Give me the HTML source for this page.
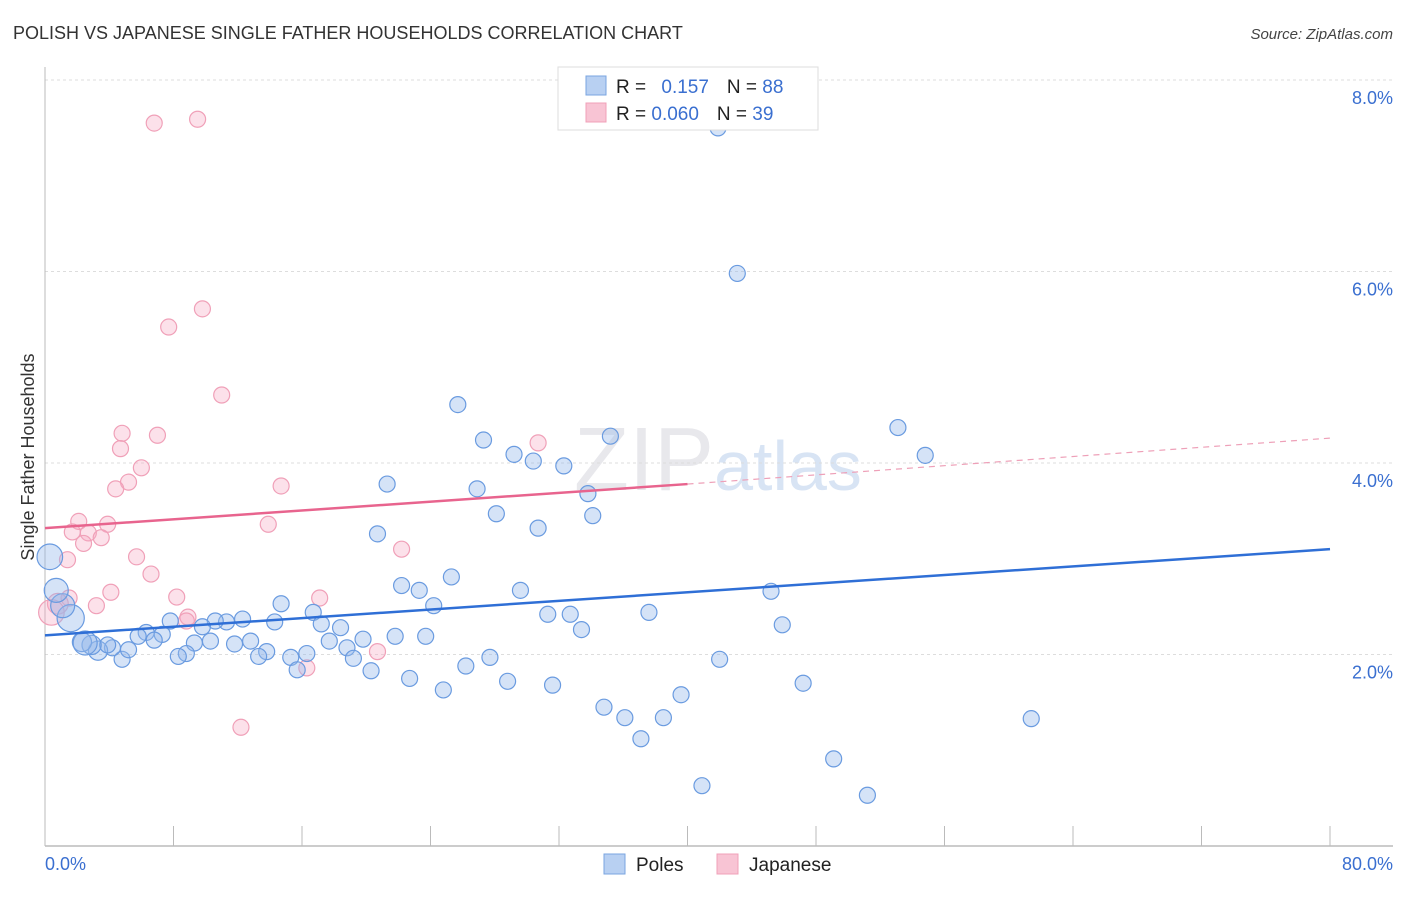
<!DOCTYPE html>
<html><head><meta charset="utf-8"><style>
body{margin:0;background:#fff;font-family:"Liberation Sans",sans-serif;}
svg text{font-family:"Liberation Sans",sans-serif;}
</style></head><body>
<svg id="chart" width="1406" height="892" viewBox="0 0 1406 892" xmlns="http://www.w3.org/2000/svg">
<text x="13" y="39" font-size="18" fill="#333">POLISH VS JAPANESE SINGLE FATHER HOUSEHOLDS CORRELATION CHART</text>
<text x="1393" y="39" font-size="15" fill="#444" font-style="italic" text-anchor="end">Source: ZipAtlas.com</text>
<text x="718" y="490" font-size="90" fill="#e8e8ec" text-anchor="middle" font-family="Liberation Serif">ZIP<tspan fill="#d8e4f4" font-family="Liberation Sans" font-size="70">atlas</tspan></text>
<g id="grid"></g>
<g id="axes"></g>
<g id="pts"></g>
<g id="trends"></g>
<text transform="translate(34,457) rotate(-90)" font-size="18" fill="#333" text-anchor="middle">Single Father Households</text>
<g>
<rect x="558" y="67" width="260" height="63" fill="#fff" stroke="#ddd"/>
<rect x="586" y="76" width="20" height="19" fill="#b8d0f2" stroke="#7aa5e0"/>
<rect x="586" y="103" width="20" height="19" fill="#f8c4d4" stroke="#f0a0b8"/>
<text x="616" y="93" font-size="19" fill="#222">R = <tspan fill="#3a6fd0" dx="10">0.157</tspan><tspan dx="18" fill="#222">N = </tspan><tspan fill="#3a6fd0">88</tspan></text>
<text x="616" y="120" font-size="19" fill="#222">R = <tspan fill="#3a6fd0">0.060</tspan><tspan dx="18" fill="#222">N = </tspan><tspan fill="#3a6fd0">39</tspan></text>
</g>
<g>
<rect x="604" y="854" width="21" height="20" fill="#b8d0f2" stroke="#7aa5e0"/>
<text x="636" y="871" font-size="19" fill="#222">Poles</text>
<rect x="717" y="854" width="21" height="20" fill="#f8c4d4" stroke="#f0a0b8"/>
<text x="749" y="871" font-size="19" fill="#222">Japanese</text>
</g>
</svg>
<script>
const xTicks=[0,8,16,24,32,40,48,56,64,72,80];
const yTicks=[2,4,6,8];
const yTickLabels=["2.0%","4.0%","6.0%","8.0%"];
const xEndLabels=["0.0%","80.0%"];
const polesX=[41.9,43.1,25.7,53.1,35.2,54.8,27.3,29.2,30.4,32.3,21.3,26.9,33.8,28.1,34.1,30.7,20.7,25.3,22.2,23.3,29.6,24.2,14.7,31.3,32.7,37.6,45.2,45.9,33.4,16.7,17.2,18.4,14.3,12.3,11.3,10.6,9.8,7.8,6.3,7.3,5.8,6.8,9.3,10.3,11.8,12.8,13.8,13.3,15.3,16.3,17.7,18.8,19.8,19.2,20.3,21.8,23.7,26.2,27.7,22.7,24.8,28.8,31.6,42.0,47.2,39.6,34.8,36.1,38.5,37.1,61.4,49.1,40.9,51.2,15.7,8.8,8.3,4.8,5.2,4.2,3.3,3.9,2.9,2.3,1.6,1.1,0.7,0.3,2.5];
const polesY=[7.50,5.98,4.61,4.37,4.28,4.08,4.24,4.09,4.02,3.97,3.78,3.73,3.68,3.47,3.45,3.32,3.26,2.81,2.72,2.67,2.67,2.51,2.53,2.42,2.42,2.44,2.66,2.31,2.26,2.44,2.32,2.28,2.34,2.37,2.34,2.35,2.29,2.35,2.23,2.21,2.19,2.15,2.12,2.14,2.11,2.14,2.03,1.98,1.97,2.01,2.14,2.07,2.16,1.96,1.83,2.19,2.19,1.88,1.97,1.75,1.63,1.72,1.68,1.95,1.70,1.58,1.45,1.34,1.34,1.12,1.33,0.91,0.63,0.53,1.84,2.01,1.98,1.95,2.05,2.07,2.04,2.10,2.10,2.13,2.38,2.51,2.67,3.02,2.12];
const polesSize=[1,1,1,1,1,1,1,1,1,1,1,1,1,1,1,1,1,1,1,1,1,1,1,1,1,1,1,1,1,1,1,1,1,1,1,1,1,1,1,1,1,1,1,1,1,1,1,1,1,1,1,1,1,1,1,1,1,1,1,1,1,1,1,1,1,1,1,1,1,1,1,1,1,1,1,1,1,1,1,1,1.2,1,1.2,1.2,1.7,1.5,1.5,1.6,1.5];
const japX=[6.8,9.5,9.8,7.7,11.0,4.8,7.0,4.7,6.0,5.2,4.4,14.7,30.7,2.1,3.9,1.7,2.7,3.5,2.4,13.9,22.2,5.7,1.4,6.6,4.1,8.2,17.1,1.5,3.2,8.9,8.8,16.3,20.7,12.2,0.8,0.4];
const japY=[7.55,7.59,5.61,5.42,4.71,4.31,4.29,4.15,3.95,3.80,3.73,3.76,4.21,3.39,3.36,3.28,3.27,3.22,3.16,3.36,3.10,3.02,2.99,2.84,2.65,2.60,2.59,2.59,2.51,2.39,2.35,1.86,2.03,1.24,2.53,2.44];
const japSize=[1,1,1,1,1,1,1,1,1,1,1,1,1,1,1,1,1,1,1,1,1,1,1,1,1,1,1,1,1,1,1,1,1,1,1.3,1.6];
const polesTrend=[[0,2.2],[80,3.1]];
const japTrendSolid=[[0,3.32],[40,3.78]];
const japTrendDash=[[40,3.78],[80,4.26]];

const X0=45,X1=1330,Y0=846,PXY=95.75;
const sx=v=>X0+(X1-X0)*v/80;
const sy=v=>Y0-v*PXY;
const NS="http://www.w3.org/2000/svg";
function mk(tag,attrs,parent){const e=document.createElementNS(NS,tag);for(const k in attrs)e.setAttribute(k,attrs[k]);parent.appendChild(e);return e;}
const grid=document.getElementById('grid'),axes=document.getElementById('axes'),pts=document.getElementById('pts'),tr=document.getElementById('trends');
yTicks.forEach((t,i)=>{
  const l=mk('line',{x1:45,x2:1393,y1:sy(t),y2:sy(t),stroke:'#ddd','stroke-dasharray':'3,3'},grid);
  
  
  const tx=mk('text',{x:1393,y:sy(t)+24,'font-size':18,fill:'#3a6fd0','text-anchor':'end'},axes);
  tx.textContent=yTickLabels[i];
  
  
});
const yl=mk('line',{x1:45,x2:45,y1:67,y2:846,stroke:'#bbb'},axes);


const xl=mk('line',{x1:45,x2:1393,y1:846,y2:846,stroke:'#bbb','stroke-width':1.5},axes);


xTicks.forEach(t=>{
  const l=mk('line',{x1:sx(t),x2:sx(t),y1:826,y2:846,stroke:'#bbb'},axes);
  
  
});
[[0,'start',45],[80,'end',1393]].forEach((a,i)=>{
  const tx=mk('text',{x:a[2],y:870,'font-size':18,fill:'#3a6fd0','text-anchor':a[1]},axes);
  tx.textContent=xEndLabels[i];
  
  
});
function dots(xs,ys,ss,fill,stroke,name){
  xs.forEach((x,i)=>{
    const c=mk('circle',{cx:sx(x),cy:sy(ys[i]),r:8*(ss[i]||1),fill:fill,stroke:stroke,'stroke-width':1.2},pts);
    
    
  });
}
dots(japX,japY,japSize,'rgba(245,170,195,0.35)','#f0a0b8','point-japanese');
dots(polesX,polesY,polesSize,'rgba(150,185,235,0.4)','#6a9be0','point-poles');
function line(p,stroke,w,dash,name){
  const l=mk('line',{x1:sx(p[0][0]),y1:sy(p[0][1]),x2:sx(p[1][0]),y2:sy(p[1][1]),stroke:stroke,'stroke-width':w},tr);
  if(dash)l.setAttribute('stroke-dasharray',dash);
  
  
}
line(polesTrend,'#2f6fd6',2.5,null,'trend-line-poles');
line(japTrendSolid,'#e8648e',2.5,null,'trend-line-japanese');
line(japTrendDash,'#eea0b8',1.2,'6,5','trend-line-japanese-extension');
</script>
</body></html>
